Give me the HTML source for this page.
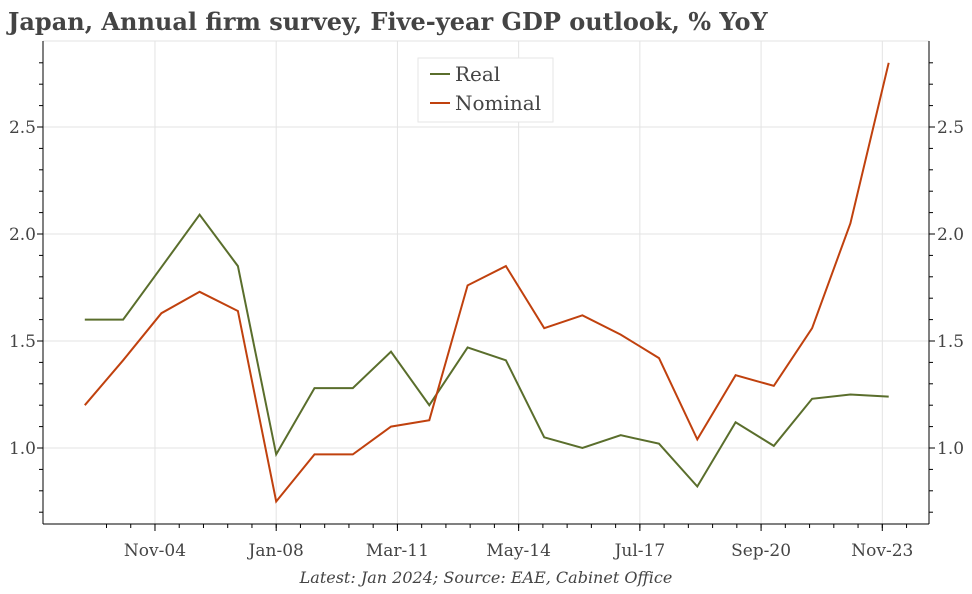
<!DOCTYPE html>
<html><head><meta charset="utf-8"><style>
body{margin:0;background:#fff;}
svg text{font-family:"DejaVu Serif","Liberation Serif",serif;fill:#444;}
</style></head><body>
<svg width="972" height="589" viewBox="0 0 972 589">
<text x="8" y="30" font-size="24" font-weight="bold">Japan, Annual firm survey, Five-year GDP outlook, % YoY</text>
<g id="grid"></g><g id="axes"></g><g id="lines"></g>
<g>
<rect x="418" y="58" width="135" height="64" fill="#fff" stroke="#e6e6e6"/>
<line x1="430" y1="74" x2="450" y2="74" stroke="#5a6e2c" stroke-width="2"/>
<text x="455" y="81" font-size="20">Real</text>
<line x1="430" y1="103" x2="450" y2="103" stroke="#c0410e" stroke-width="2"/>
<text x="455" y="110" font-size="20">Nominal</text>
</g>
<text x="486" y="583" font-size="16" font-style="italic" text-anchor="middle">Latest: Jan 2024; Source: EAE, Cabinet Office</text>
</svg>
<script>
const years=[2003,2004,2005,2006,2007,2008,2009,2010,2011,2012,2013,2014,2015,2016,2017,2018,2019,2020,2021,2022,2023,2024];
const realVals=[1.6,1.6,1.845,2.09,1.85,0.97,1.28,1.28,1.45,1.2,1.47,1.41,1.05,1.0,1.06,1.02,0.82,1.12,1.01,1.23,1.25,1.24];
const nominalVals=[1.2,1.41,1.63,1.73,1.64,0.75,0.97,0.97,1.10,1.13,1.76,1.85,1.56,1.62,1.53,1.42,1.04,1.34,1.29,1.56,2.05,2.80];
const xTickLabels=["Nov-04","Jan-08","Mar-11","May-14","Jul-17","Sep-20","Nov-23"];
const xTickMonths=[22,60,98,136,174,212,250];
const yTicks=[1.0,1.5,2.0,2.5];
const L=43,R=929,T=41,B=524;
function xs(m){return 84.8+m*3.19;}
function ys(v){return 448-(v-1)*214;}
const NS="http://www.w3.org/2000/svg";
function mk(p,t,a){const e=document.createElementNS(NS,t);for(const k in a)e.setAttribute(k,a[k]);p.appendChild(e);return e;}
const grid=document.getElementById('grid'),axes=document.getElementById('axes'),lines=document.getElementById('lines');
mk(grid,'line',{x1:L,x2:R,y1:T,y2:T,stroke:'#e3e3e3'});
xTickMonths.forEach((m,i)=>{
  const x=xs(m);
  const g=mk(grid,'line',{x1:x,x2:x,y1:T,y2:B,stroke:'#e3e3e3'});
  
  
  mk(axes,'line',{x1:x,x2:x,y1:B,y2:B+7,stroke:'#000'});
  const t=mk(axes,'text',{x:x,y:B+32,'font-size':17,'text-anchor':'middle'});
  t.textContent=xTickLabels[i];
  
  
});
for(let m=22-7.6*2;m<=260;m+=7.6){const x=xs(m);if(x>L&&x<R)mk(axes,'line',{x1:x,x2:x,y1:B,y2:B+4,stroke:'#000'});}
yTicks.forEach(v=>{
  const y=ys(v);
  const g=mk(grid,'line',{x1:L,x2:R,y1:y,y2:y,stroke:'#e3e3e3'});
  
  
  mk(axes,'line',{x1:L-6,x2:L,y1:y,y2:y,stroke:'#000'});
  mk(axes,'line',{x1:R,x2:R+6,y1:y,y2:y,stroke:'#000'});
  const t=mk(axes,'text',{x:L-7,y:y+6,'font-size':17,'text-anchor':'end'});
  t.textContent=v.toFixed(1);
  
  
  const t2=mk(axes,'text',{x:R+8,y:y+6,'font-size':17});
  t2.textContent=v.toFixed(1);
  
  
});
for(let v=0.7;v<=2.9;v+=0.1){const y=ys(v);mk(axes,'line',{x1:L-4,x2:L,y1:y,y2:y,stroke:'#000'});mk(axes,'line',{x1:R,x2:R+4,y1:y,y2:y,stroke:'#000'});}
const la=mk(axes,'line',{x1:L,x2:L,y1:T,y2:B,stroke:'#000'});


const ra=mk(axes,'line',{x1:R,x2:R,y1:T,y2:B,stroke:'#000'});


const xa=mk(axes,'line',{x1:L,x2:R,y1:B,y2:B,stroke:'#000'});


function series(vals,color,name){
  const d=vals.map((v,i)=>(i?'L':'M')+xs((years[i]-2003)*12).toFixed(1)+','+ys(v).toFixed(1)).join('');
  const p=mk(lines,'path',{d:d,fill:'none',stroke:color,'stroke-width':2,'stroke-linejoin':'miter'});
  
  
}
series(realVals,'#5a6e2c','real-line');
series(nominalVals,'#c0410e','nominal-line');
</script>
</body></html>
